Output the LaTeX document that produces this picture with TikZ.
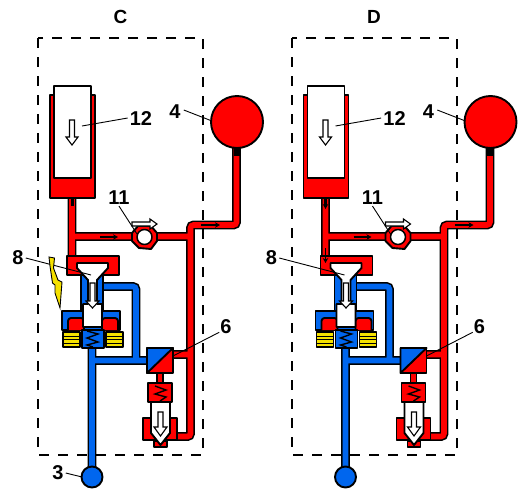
\documentclass[tikz,border=0pt]{standalone}
\usepackage{fontspec}
\setmainfont{Liberation Sans}
\usetikzlibrary{arrows.meta}
\definecolor{oilred}{RGB}{255,0,0}
\definecolor{oilblue}{RGB}{0,102,238}
\definecolor{coilyellow}{RGB}{245,225,0}
\tikzset{
  part/.style={draw=black,line width=1.9pt,line join=round},
  redpart/.style={part,fill=oilred},
  bluepart/.style={part,fill=oilblue},
  whitepart/.style={part,fill=white},
  hollow/.style={draw=black,line width=1.1pt,fill=white,line join=miter},
  pipeedge/.style={draw=black,line width=8.8pt,rounded corners=3pt},
  redpipe/.style={draw=oilred,line width=5.6pt,rounded corners=3pt},
  bluepipe/.style={draw=oilblue,line width=5.6pt,rounded corners=3pt},
  leader/.style={draw=black,line width=0.9pt},
  flow/.style={draw=black,line width=1.8pt,-{Stealth[length=5pt,width=5.5pt]}},
  spring/.style={draw=black,line width=1.4pt},
  title/.style={font=\bfseries\fontsize{19}{19}\selectfont,inner sep=0pt},
  number/.style={font=\bfseries\fontsize{20}{20}\selectfont,inner sep=0pt},
}
\begin{document}
\begin{tikzpicture}[x=1pt,y=-1pt]
\useasboundingbox (0,0) rectangle (527,498);
\foreach \side/\dx/\boxdx/\name in {c/0/0/C,d/253.5/254/D}{
\begin{scope}[xshift=\dx pt]
% frame
\draw[black,line width=2pt,dash pattern=on 10pt off 9pt] (38+\boxdx-\dx,38) rectangle (203+\boxdx-\dx,455);
\node[title] (\side title) at (120.5,17) {\name};
% pressure lines
\def\redlines{(72,198) -- (72,258) (72,236.5) -- (190.5,236.5) (173,354.5) -- (190.5,354.5)
  (236.5,148) -- (236.5,225) -- (190.5,225) -- (190.5,436.5) -- (170,436.5)}
\draw[pipeedge] \redlines;
\draw[redpipe] \redlines;
% return lines
\def\bluelines{(92,348) -- (92,470) (92,360.5) -- (147,360.5) (136,360.5) -- (136,286.5) -- (102,286.5)}
\draw[pipeedge] \bluelines;
\draw[bluepipe] \bluelines;
% accumulator
\node[redpart,circle,minimum size=52pt,inner sep=0pt] (\side acc) at (237,122) {};
\fill[black] (233.5,147) rectangle (240,156);
% cylinder 12
\draw[redpart] (50,95) rectangle (95,198);
\draw[whitepart] (54,86) rectangle (91,178);
\draw[hollow] (69.5,120) -- (74.5,120) -- (74.5,137) -- (78,137) -- (72,145) -- (66,137) -- (69.5,137) -- cycle;
\fill[black] (70.5,198) rectangle (73.5,206);
% check valve 11
\draw[redpart] (132,233) -- (138,226) -- (151,226) -- (157,233) -- (157,241) -- (151,249) -- (139,248) -- (132,241) -- cycle;
\node[part,fill=white,line width=1.5pt,circle,minimum size=15pt,inner sep=0pt] (\side ball) at (144.5,237) {};
\draw[hollow] (132,222) -- (150,222) -- (150,219) -- (157,224) -- (150,229) -- (150,226) -- (132,226) -- cycle;
% solenoid valve 8
\draw[bluepart] (81,274) rectangle (103,312);
\draw[redpart] (67,256) rectangle (119,275);
\draw[bluepart] (62,311) rectangle (120,330);
\draw[redpart,rounded corners=3pt] (68,330) -- (68,318) -- (84,318) -- (84,330);
\draw[redpart,rounded corners=3pt] (102,330) -- (102,318) -- (118,318) -- (118,330);
\draw[whitepart] (77,263) -- (108,263) -- (108,268) -- (97,280) -- (97,304) -- (102,304) -- (102,327)
  -- (83,327) -- (83,304) -- (88,304) -- (88,280) -- (77,268) -- cycle;
\draw[hollow] (90,283) -- (95,283) -- (95,301) -- (99,301) -- (92.5,308) -- (86,301) -- (90,301) -- cycle;
\draw[bluepart] (82,330) rectangle (104,348);
\draw[spring] (87,331) -- (98,334) -- (87,338) -- (98,342) -- (87,345) -- (93,347);
\foreach \coilx in {63,106}{
  \draw[part,fill=coilyellow] (\coilx,332) rectangle (\coilx+17,347);
  \foreach \coily in {336,339.5,343}
    \draw[black,line width=1pt] (\coilx,\coily) -- (\coilx+17,\coily);
}
% pilot valve 6
\draw[redpart] (157,372) rectangle (163,384);
\draw[redpart] (147,348) rectangle (173,373);
\draw[bluepart] (147,348) -- (173,348) -- (147,373) -- cycle;
\draw[redpart] (148,383) rectangle (172,402);
\draw[spring] (155,386) -- (166,390) -- (155,394) -- (166,397) -- (160,401);
\draw[redpart] (154,441) rectangle (167,447);
\draw[redpart] (143,418) rectangle (177,440);
\draw[whitepart] (151,402) -- (170,402) -- (170,433) -- (160.5,445) -- (151,433) -- cycle;
\draw[hollow] (158,412) -- (163,412) -- (163,427) -- (167,427) -- (160.5,436) -- (154,427) -- (158,427) -- cycle;
% tank
\node[bluepart,circle,minimum size=21pt,inner sep=0pt] (\side tank) at (92,477) {};
% flow marks
\coordinate (\side flowa) at (100,237);
\coordinate (\side flowb) at (118,237);
\coordinate (\side flowc) at (201,225);
\coordinate (\side flowd) at (220,225);
\draw[flow] (\side flowa) -- (\side flowb);
\draw[flow] (\side flowc) -- (\side flowd);
% labels
\node[number] (\side n12) at (141,119) {12};
\node[number] (\side n4) at (175,112) {4};
\node[number] (\side n11) at (119,198) {11};
\node[number] (\side n8) at (18,258) {8};
\node[number] (\side n6) at (226,327) {6};
\coordinate (\side t12) at (82,126);
\coordinate (\side t4) at (212,121);
\coordinate (\side t11) at (137,234);
\coordinate (\side t8) at (91,275);
\coordinate (\side t6) at (173,356);
\draw[leader] (\side n12.west) ++(-2pt,1pt) -- (\side t12);
\draw[leader] (\side n4.east) ++(3pt,2pt) -- (\side t4);
\draw[leader] (\side n11.south) ++(0pt,-1pt) -- (\side t11);
\draw[leader] (\side n8.east) ++(2pt,0pt) -- (\side t8);
\draw[leader] (\side n6.south west) ++(-1pt,2pt) -- (\side t6);
\end{scope}
}
% only in C
\node[number] (cn3) at (58,473) {3};
\coordinate (ct3) at (82,477);
\draw[leader] (cn3.east) ++(2pt,0pt) -- (ct3);
\draw[draw=black,line width=0.9pt,fill=coilyellow] (49,257) -- (54.5,258) -- (53.5,268) -- (58,280) -- (62,282) -- (60,308)
  -- (55,293) -- (55,285) -- (52.5,283) -- (50,266) -- cycle;
% only in D
\coordinate (dflowa) at (325.5,200);
\coordinate (dflowb) at (325.5,209);
\coordinate (dflowc) at (325.5,248);
\coordinate (dflowd) at (325.5,263);
\draw[flow] (dflowa) -- (dflowb);
\draw[flow] (dflowc) -- (dflowd);
\end{tikzpicture}
\end{document}
